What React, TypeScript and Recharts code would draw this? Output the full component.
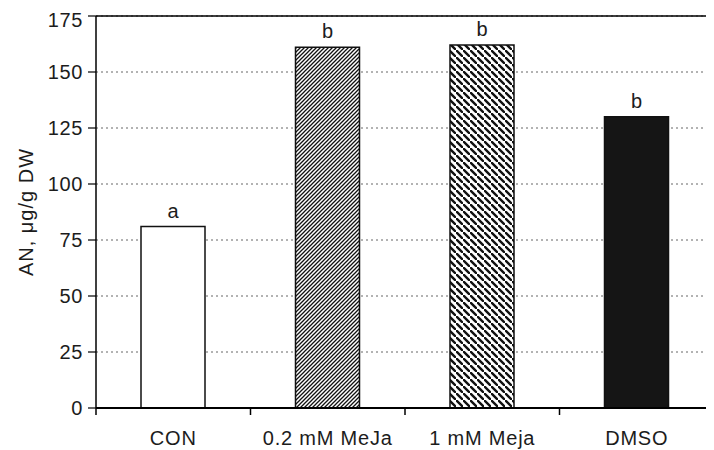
import React from "react"
import {
  BarChart,
  Bar,
  Cell,
  XAxis,
  YAxis,
  CartesianGrid,
  ReferenceLine,
  LabelList,
} from "recharts"

const categories = ["CON", "0.2 mM MeJa", "1 mM Meja", "DMSO"]
const values = [81, 161, 162, 130]
const letters = ["a", "b", "b", "b"]
const yTicks = [0, 25, 50, 75, 100, 125, 150, 175]

const FONT = "'Liberation Sans', Arial, Helvetica, sans-serif"
const INK = "#1c1c1c"

const fills = ["#ffffff", "url(#hatch-fine)", "url(#hatch-wide)", "#151515"]

const data = categories.map((name, i) => ({
  name,
  value: values[i],
  sig: letters[i],
}))

// category label plus tick marks on the band edges
function CategoryTick(props: any) {
  const { x, y, index, width, visibleTicksCount, payload } = props
  const band = width / visibleTicksCount
  const left = x - band / 2
  const right = x + band / 2
  return (
    <g>
      {index === 0 && (
        <line x1={left} y1={y} x2={left} y2={y + 7} stroke="#000" strokeWidth={1.5} />
      )}
      <line x1={right} y1={y} x2={right} y2={y + 7} stroke="#000" strokeWidth={1.5} />
      <text
        x={x}
        y={y + 23}
        dy="0.71em"
        textAnchor="middle"
        fill={INK}
        fontSize={20}
        letterSpacing={0.8}
        fontFamily={FONT}
      >
        {payload.value}
      </text>
    </g>
  )
}

export default function App() {
  return (
    <div style={{ width: 706, height: 442, fontFamily: FONT }}>
      <BarChart
        width={706}
        height={442}
        data={data}
        margin={{ top: 8, right: 0, bottom: 0, left: 0 }}
      >
        <defs>
          <pattern id="hatch-fine" patternUnits="userSpaceOnUse" width={4} height={4}>
            <rect width={4} height={4} fill="#fff" />
            <path d="M-1,1 l2,-2 M0,4 l4,-4 M3,5 l2,-2" stroke="#111" strokeWidth={1.3} />
          </pattern>
          <pattern id="hatch-wide" patternUnits="userSpaceOnUse" width={7} height={7}>
            <rect width={7} height={7} fill="#fff" />
            <path d="M-1,-1 l2,2 M0,0 l7,7 M6,6 l2,2" stroke="#111" strokeWidth={2.4} />
          </pattern>
        </defs>
        <CartesianGrid
          vertical={false}
          stroke="#666"
          strokeDasharray="2 3"
        />
        <XAxis
          dataKey="name"
          axisLine={{ stroke: "#000", strokeWidth: 1.8 }}
          tickLine={false}
          tickSize={0}
          tickMargin={0}
          height={42}
          interval={0}
          tick={(p: any) => <CategoryTick {...p} />}
        />
        <YAxis
          domain={[0, 175]}
          ticks={yTicks}
          width={88}
          axisLine={{ stroke: "#000", strokeWidth: 1.5 }}
          tickLine={{ stroke: "#000", strokeWidth: 1.2 }}
          tickSize={8}
          tickMargin={5}
          tick={{ fill: INK, fontSize: 20, fontFamily: FONT, letterSpacing: 0.6 }}
          label={{
            value: "AN, μg/g DW",
            angle: -90,
            position: "center",
            dx: -26,
            fill: INK,
            fontSize: 20,
            letterSpacing: 1,
            fontFamily: FONT,
          }}
        />
        <ReferenceLine y={175} stroke="#000" strokeWidth={1.5} />
        <Bar dataKey="value" barSize={64} isAnimationActive={false} stroke="#111" strokeWidth={1.5}>
          {data.map((d, i) => (
            <Cell key={d.name} fill={fills[i]} />
          ))}
          <LabelList
            dataKey="sig"
            position="top"
            offset={9}
            fill={INK}
            fontSize={20}
            fontFamily={FONT}
          />
        </Bar>
      </BarChart>
    </div>
  )
}
